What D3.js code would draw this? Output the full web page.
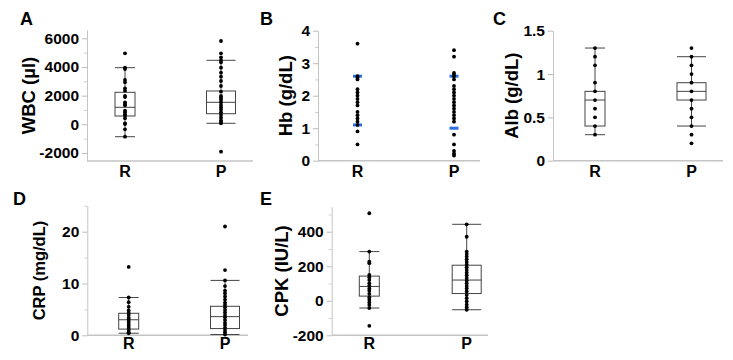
<!DOCTYPE html>
<html>
<head>
<meta charset="utf-8">
<script src="https://cdn.jsdelivr.net/npm/d3@7"></script>
<style>
  body { margin: 0; background: #fff; }
  text { font-family: "Liberation Sans", Arial, sans-serif; font-weight: bold; fill: #000; }
</style>
</head>
<body>
<div id="chart"></div>
<script>
// Groups on the x axis.
var groups = ["R", "P"];

// A: WBC (µl)
var wbcR = [4950, 3950, 3860, 3090, 2930, 2510, 2345, 1975, 1905, 1535, 1417, 1325, 950, 837, 698, 600, 419, 70, 20, -349, -865];
var wbcP = [5813, 4955, 4675, 4466, 4327, 3950, 3600, 3322, 3022, 2673, 2275, 1975, 1856, 1717, 1535, 1347, 1186, 1019, 837, 649, 463, 279, 160, 70, -1912];
var wbcBoxR = [-865, 580, 1186, 2233, 3950];   // whisker low, q1, median, q3, whisker high
var wbcBoxP = [70, 740, 1535, 2324, 4466];
var wbcTicks = [-2000, 0, 2000, 4000, 6000];
var wbcMinor = [-1000, 1000, 3000, 5000];

// B: Hb (g/dL)
var hbR = [3.6, 2.6, 2.55, 2.5, 2.2, 2.1, 2.0, 1.9, 1.8, 1.7, 1.5, 1.4, 1.3, 1.2, 1.1, 0.9, 0.5];
var hbP = [3.4, 3.2, 2.7, 2.65, 2.6, 2.5, 2.3, 2.2, 2.1, 2.0, 1.9, 1.8, 1.7, 1.6, 1.5, 1.4, 1.3, 1.2, 0.8, 0.5, 0.3, 0.22, 0.16];
var hbMarkR = [1.1, 2.6];
var hbMarkP = [1.0, 2.6];
var hbTicks = [0, 1, 2, 3, 4];
var hbMinor = [0.5, 1.5, 2.5, 3.5];

// C: Alb (g/dL)
var albR = [1.3, 1.2, 1.1, 0.9, 0.8, 0.7, 0.6, 0.5, 0.4, 0.3];
var albP = [1.3, 1.2, 1.1, 1.0, 0.9, 0.8, 0.7, 0.6, 0.5, 0.4, 0.3, 0.2];
var albBoxR = [0.3, 0.4, 0.7, 0.8, 1.3];
var albBoxP = [0.4, 0.7, 0.8, 0.9, 1.2];
var albTicks = [0, 0.5, 1, 1.5];
var albMinor = [];

// D: CRP (mg/dL)
var crpR = [13.2, 7.3, 6.4, 5.5, 4.8, 4.3, 3.9, 3.4, 3.0, 2.6, 2.2, 1.8, 1.4, 1.0, 0.6, 0.4];
var crpP = [21.0, 12.6, 10.6, 9.5, 8.6, 8.1, 7.5, 6.9, 6.3, 5.85, 5.4, 4.9, 4.4, 3.9, 3.5, 2.95, 2.4, 2.0, 1.5, 1.0, 0.6, 0.15];
var crpBoxR = [0.4, 1.2, 3.0, 4.25, 7.3];
var crpBoxP = [0.15, 1.3, 3.6, 5.6, 10.6];
var crpTicks = [0, 10, 20];
var crpMinor = [5, 15, 25];

// E: CPK (IU/L)
var cpkR = [507, 285, 227, 218, 150, 137, 121, 102, 87, 71, 58, 40, 21, 6, -10, -25, -42, -145];
var cpkP = [443, 371, 285, 271, 256, 240, 225, 209, 194, 179, 163, 148, 132, 117, 102, 86, 71, 54, 34, 15, -4, -23, -37, -52];
var cpkBoxR = [-42, 27, 83, 143, 285];
var cpkBoxP = [-52, 42, 120, 206, 443];
var cpkTicks = [-200, 0, 200, 400];
var cpkMinor = [-100, 100, 300, 500];

// Layout of each panel.
var panels = [
  { letter: "A", title: "WBC (µl)", values: [wbcR, wbcP], boxes: [wbcBoxR, wbcBoxP], ticks: wbcTicks, minor: wbcMinor,
    domain: [-2560, 6580], left: 87, right: 253, top: 30, bottom: 161, off: [38, 134],
    letterPos: [20, 25], titleX: 35, titleSize: 18.5, labelY: 177 },
  { letter: "B", title: "Hb (g/dL)", values: [hbR, hbP], marks: [hbMarkR, hbMarkP], ticks: hbTicks, minor: hbMinor,
    domain: [0, 4], left: 318, right: 480, top: 30.7, bottom: 160.7, off: [39.5, 136],
    letterPos: [260, 25], titleX: 292, titleSize: 18.5, labelY: 177 },
  { letter: "C", title: "Alb (g/dL)", values: [albR, albP], boxes: [albBoxR, albBoxP], ticks: albTicks, minor: albMinor,
    domain: [0, 1.5], left: 553, right: 723, top: 30.7, bottom: 160.7, off: [42, 138.5],
    letterPos: [493, 25], titleX: 518, titleSize: 18.5, labelY: 177 },
  { letter: "D", title: "CRP (mg/dL)", values: [crpR, crpP], boxes: [crpBoxR, crpBoxP], ticks: crpTicks, minor: crpMinor,
    domain: [0, 25], left: 87.3, right: 248, top: 205.8, bottom: 335.3, off: [41.4, 137.7],
    letterPos: [13, 205], titleX: 45, titleSize: 16.5, labelY: 349 },
  { letter: "E", title: "CPK (IU/L)", values: [cpkR, cpkP], boxes: [cpkBoxR, cpkBoxP], ticks: cpkTicks, minor: cpkMinor,
    domain: [-200, 545], left: 331.7, right: 488, top: 206.7, bottom: 335.3, off: [37.6, 135],
    letterPos: [260, 205], titleX: 288, titleSize: 18.5, labelY: 349 }
];

var boxWidth = { R: 20, P: 29 };
var axisColor = "#c4c4c4";
var boxColor = "#444";

var svg = d3.select("#chart")
  .append("svg")
  .attr("width", 733)
  .attr("height", 360);

panels.forEach(function(p) {
  var g = svg.append("g");

  var y = d3.scaleLinear()
    .domain(p.domain)
    .range([p.bottom, p.top]);

  var x = d3.scaleOrdinal()
    .domain(groups)
    .range([p.left + p.off[0], p.left + p.off[1]]);

  // Minor ticks.
  g.append("g")
    .attr("transform", `translate(${p.left}, 0)`)
    .call(d3.axisLeft(y).tickValues(p.minor).tickSize(3).tickFormat(""))
    .call(s => s.select(".domain").remove())
    .call(s => s.selectAll("line").attr("stroke", "#d0d0d0"));

  // Major ticks and the y axis line.
  var yAxis = g.append("g")
    .attr("transform", `translate(${p.left}, 0)`)
    .call(d3.axisLeft(y).tickValues(p.ticks).tickSize(5).tickSizeOuter(0).tickPadding(3).tickFormat(d => String(d)));
  yAxis.select(".domain").attr("stroke", axisColor);
  yAxis.selectAll("line").attr("stroke", "#bbb");
  yAxis.selectAll("text")
    .attr("font-size", "15.5px")
    .attr("font-family", "Liberation Sans, Arial, sans-serif")
    .attr("font-weight", "bold")
    .attr("fill", "#000");

  // x axis line.
  g.append("line")
    .attr("x1", p.left).attr("x2", p.right)
    .attr("y1", p.bottom).attr("y2", p.bottom)
    .attr("stroke", axisColor)
    .attr("stroke-width", 1.5);

  // Group labels.
  g.selectAll(".grp")
    .data(groups)
    .enter()
    .append("text")
    .attr("x", d => x(d))
    .attr("y", p.labelY)
    .attr("text-anchor", "middle")
    .attr("font-size", "16px")
    .text(d => d);

  // Box plots.
  if (p.boxes) {
    groups.forEach(function(grp, i) {
      var b = p.boxes[i];
      var cx = x(grp);
      var hw = boxWidth[grp] / 2;
      var bg = g.append("g").attr("stroke", boxColor).attr("stroke-width", 1).attr("fill", "none");
      bg.append("line").attr("x1", cx).attr("x2", cx).attr("y1", y(b[0])).attr("y2", y(b[1]));
      bg.append("line").attr("x1", cx).attr("x2", cx).attr("y1", y(b[3])).attr("y2", y(b[4]));
      bg.append("line").attr("x1", cx - hw).attr("x2", cx + hw).attr("y1", y(b[0])).attr("y2", y(b[0]));
      bg.append("line").attr("x1", cx - hw).attr("x2", cx + hw).attr("y1", y(b[4])).attr("y2", y(b[4]));
      bg.append("rect")
        .attr("x", cx - hw).attr("width", hw * 2)
        .attr("y", y(b[3])).attr("height", y(b[1]) - y(b[3]));
      bg.append("line").attr("x1", cx - hw).attr("x2", cx + hw).attr("y1", y(b[2])).attr("y2", y(b[2]));
    });
  }

  // Blue marks (panel B).
  if (p.marks) {
    groups.forEach(function(grp, i) {
      g.selectAll(null)
        .data(p.marks[i])
        .enter()
        .append("rect")
        .attr("x", x(grp) - 4.5)
        .attr("y", d => y(d) - 1.5)
        .attr("width", 9)
        .attr("height", 3)
        .attr("fill", "#2f6fe8");
    });
  }

  // Points.
  groups.forEach(function(grp, i) {
    g.selectAll(null)
      .data(p.values[i])
      .enter()
      .append("circle")
      .attr("cx", x(grp))
      .attr("cy", d => y(d))
      .attr("r", 1.9)
      .attr("fill", "#000");
  });

  // Axis title.
  var midY = (p.top + p.bottom) / 2;
  g.append("text")
    .attr("transform", `translate(${p.titleX}, ${midY}) rotate(-90)`)
    .attr("text-anchor", "middle")
    .attr("font-size", p.titleSize + "px")
    .text(p.title);

  // Panel letter.
  g.append("text")
    .attr("x", p.letterPos[0])
    .attr("y", p.letterPos[1])
    .attr("font-size", "18px")
    .text(p.letter);
});
</script>
</body>
</html>
